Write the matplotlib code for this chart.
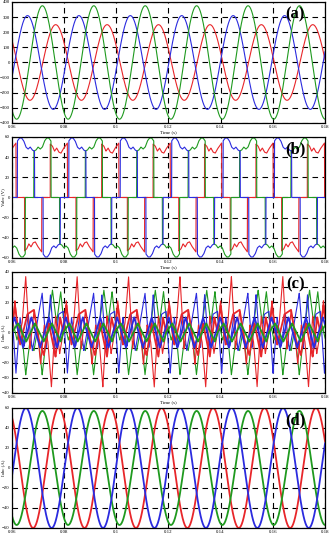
import matplotlib
matplotlib.use("Agg")
import matplotlib.pyplot as plt
import numpy as np

# ---- data ----
t_start, t_end = 0.06, 0.18
x_ticks = [0.06, 0.08, 0.1, 0.12, 0.14, 0.16, 0.18]
x_ticklabels = ["0.06", "0.08", "0.1", "0.12", "0.14", "0.16", "0.18"]
period = 0.0197  # seconds, measured peak to peak

# (a) sinusoidal voltages: amplitude and time of first peak
a_amp = {"b": 310, "g": 375, "r": 250}
a_peak = {"b": 0.0660, "g": 0.0717, "r": 0.0768}
a_yticks = [-400, -300, -200, -100, 0, 100, 200, 300, 400]

# (b) 120-degree conduction voltages: profile of the positive block
b_center = {"b": 0.0654, "g": 0.0717, "r": 0.0780}
b_profile = {
    "b": [56, 59, 59, 56, 50, 48, 50, 47, 46],
    "g": [46, 47, 50, 48, 50, 56, 59, 59, 56],
    "r": [53, 51, 46, 49, 45, 44, 48, 51, 54],
}
b_yticks = [-60, -40, -20, 0, 20, 40, 60]

# (c) currents: (phase within one period, value) vertices
c_thin = {
    "r": ([0.00, 0.06, 0.13, 0.20, 0.27, 0.35, 0.43, 0.50, 0.56, 0.63, 0.70, 0.77, 0.85, 0.93, 1.00],
          [0, 21, -5, 6, 37, -11, 14, 0, -21, 5, -6, -36, 11, -14, 0]),
    "b": ([0.00, 0.08, 0.16, 0.24, 0.32, 0.40, 0.50, 0.59, 0.67, 0.75, 0.83, 0.91, 1.00],
          [14, -27, 10, -9, 12, -12, 8, 26, -10, 25, -12, 12, 14]),
    "g": ([0.00, 0.10, 0.18, 0.27, 0.35, 0.43, 0.50, 0.59, 0.68, 0.79, 0.87, 0.95, 1.00],
          [10, -5, 5, -28, -6, -12, 2, -28, 0, 28, 6, 27, 10]),
}
c_thick = {
    "r": ([0.00, 0.06, 0.16, 0.30, 0.43, 0.52, 0.62, 0.72, 0.85, 0.94, 1.00],
          [0, 18, -8, 12, 15, -4, -15, 6, -16, 10, 0]),
    "b": ([0.00, 0.05, 0.22, 0.38, 0.55, 0.72, 0.88, 1.00],
          [4, 10, -10, 10, -10, 10, -10, 4]),
    "g": ([0.00, 0.12, 0.28, 0.45, 0.62, 0.78, 0.95, 1.00],
          [0, 6, -6, 6, -6, 6, -6, 0]),
}
c_yticks = [-40, -30, -20, -10, 0, 10, 20, 30, 40]

# (d) sinusoidal currents
d_amp = {"b": 60, "g": 57, "r": 60}
d_peak = {"b": 0.0654, "g": 0.0717, "r": 0.0780}
d_yticks = [-60, -40, -20, 0, 20, 40, 60]

colors = {"b": "#2b2bdf", "g": "#1f9a1f", "r": "#e8262a"}
tags = ["(a)", "(b)", "(c)", "(d)"]
ylabels = ["", "Vabc (V)", "Iabc (A)", "Iabc (A)"]
xlabels = ["Time (s)", "Time (s)", "Time (s)", ""]

t = np.linspace(t_start, t_end, 6000)

fig = plt.figure(figsize=(3.29, 5.37), dpi=100)
boxes = [(0.036, 0.771, 0.952, 0.2253),
         (0.036, 0.5196, 0.952, 0.2253),
         (0.036, 0.2682, 0.952, 0.2253),
         (0.036, 0.0168, 0.952, 0.2235)]
axes = [fig.add_axes(b) for b in boxes]

# (a)
ax = axes[0]
for k in ["r", "b", "g"]:
    ax.plot(t, a_amp[k] * np.cos(2 * np.pi * (t - a_peak[k]) / period), color=colors[k], lw=0.8)
ax.set_ylim(-400, 400)
ax.set_yticks(a_yticks)

# (b)
ax = axes[1]
for k in ["r", "g", "b"]:
    ph = ((t - b_center[k]) / period + 1 / 6) % 1.0  # 0..1/3 positive block
    prof = np.array(b_profile[k])
    xs = np.linspace(0, 1 / 3, len(prof))
    v = np.zeros_like(t)
    pos = ph < 1 / 3
    neg = (ph >= 0.5) & (ph < 0.5 + 1 / 3)
    v[pos] = np.interp(ph[pos], xs, prof)
    v[neg] = -np.interp(ph[neg] - 0.5, xs, prof)
    ax.plot(t, v, color=colors[k], lw=0.8)
ax.set_ylim(-60, 60)
ax.set_yticks(b_yticks)

# (c)
ax = axes[2]
ph = ((t - t_start) / period) % 1.0
for k in ["g", "b", "r"]:
    fx, fv = c_thin[k]
    ax.plot(t, np.interp(ph, fx, fv), color=colors[k], lw=0.8)
for k in ["r", "b", "g"]:
    fx, fv = c_thick[k]
    ax.plot(t, np.interp(ph, fx, fv), color=colors[k], lw=1.3)
ax.set_ylim(-40, 40)
ax.set_yticks(c_yticks)

# (d)
ax = axes[3]
for k in ["r", "g", "b"]:
    ax.plot(t, d_amp[k] * np.cos(2 * np.pi * (t - d_peak[k]) / period), color=colors[k], lw=1.3)
ax.set_ylim(-60, 60)
ax.set_yticks(d_yticks)

for ax, tag, yl, xl in zip(axes, tags, ylabels, xlabels):
    ax.set_xlim(t_start, t_end)
    ax.set_xticks(x_ticks)
    ax.set_xticklabels(x_ticklabels)
    ax.grid(True, color="black", linestyle=(0, (5, 4)), lw=0.8)
    ax.tick_params(direction="in", length=2, width=0.5, labelsize=3.5, pad=1.5)
    for lab in ax.get_xticklabels() + ax.get_yticklabels():
        lab.set_family("Liberation Serif")
    for s in ax.spines.values():
        s.set_linewidth(0.9)
    if xl:
        ax.set_xlabel(xl, fontsize=3.5, family="Liberation Serif", labelpad=1)
    if yl:
        ax.set_ylabel(yl, fontsize=3.5, family="Liberation Serif")
        ax.yaxis.set_label_coords(-0.022, 0.5)
    ax.text(0.905, 0.9, tag, transform=ax.transAxes, ha="center", va="center",
            fontsize=12, fontweight="bold", family="Liberation Serif")

fig.savefig("out.png", dpi=100)
